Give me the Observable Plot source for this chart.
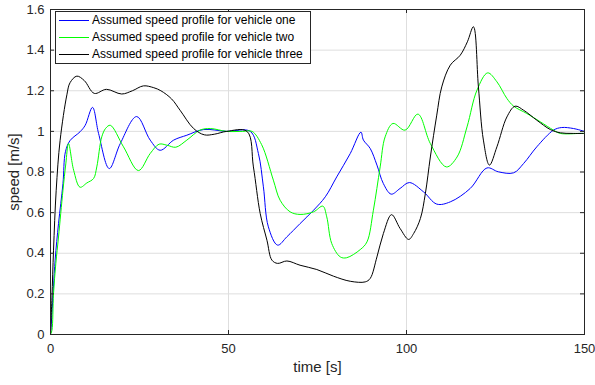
<!DOCTYPE html>
<html><head><meta charset="utf-8">
<script src="https://cdn.jsdelivr.net/npm/d3@7"></script>
<script src="https://cdn.jsdelivr.net/npm/@observablehq/plot@0.6"></script>
<style>
body{margin:0;background:#fff;font-family:"Liberation Sans",Arial,sans-serif}
#wrap{position:relative;width:595px;height:385px}
#legend{position:absolute;left:55px;top:11px;width:254px;height:51px;border:1px solid #262626;background:#fff;font-size:12px;color:#000}
.item{position:absolute;left:3px;height:16px;line-height:16px;white-space:nowrap;display:flex;align-items:center}
.sw{display:inline-block;width:30px;height:0;border-top:1px solid;margin-right:3px}
</style></head><body><div id="wrap"></div>
<script>
// ---- data ----
const seriesNames = ["Assumed speed profile for vehicle one","Assumed speed profile for vehicle two","Assumed speed profile for vehicle three"];
const seriesColors = ["#0000ff","#00ff00","#000000"];

const tOne = [0,0.4,1.3,2.25,3.5,4.2,5.5,8.3,9.75,11.8,13.5,16.5,19.6,24.2,28.0,30.8,34.6,38.3,43.0,49.5,56.1,58.4,59.8,61.2,63.8,66.4,70.1,73.9,77.2,80.4,84.2,87.2,87.9,89.8,91.7,93.5,95.7,98.2,100.8,104.8,108.5,112.3,117.9,122.6,125.8,130.1,132.9,136.6,141.3,143.6,146.9,150];
const vOne = [0,0.1,0.366,0.546,0.743,0.9,0.955,0.998,1.03,1.118,0.99,0.817,0.94,1.073,0.957,0.907,0.957,0.981,1.009,1.0,1.0,0.891,0.727,0.53,0.44,0.481,0.546,0.612,0.678,0.776,0.891,0.996,0.957,0.916,0.834,0.743,0.691,0.719,0.748,0.702,0.642,0.653,0.719,0.82,0.801,0.796,0.842,0.924,1.006,1.019,1.014,1.0];

const tTwo = [0,0.4,0.84,1.5,2.25,3.5,4.3,5.06,6.5,8.3,10.2,12.1,13.0,14.4,15.5,16.8,20.5,24.7,28.0,30.5,32.7,35.2,38.3,42.0,44.9,49.5,54,56.6,59.3,62.6,64.5,67.3,70.1,73.9,76.5,77.6,79.0,81.4,83.2,87.0,88.9,90.7,92.6,94.0,96.2,99.6,103.2,106.7,111.2,114.2,117.0,119.8,122.8,125.4,128.2,130.1,133.8,137.6,141.3,143.2,148.8,150];
const vTwo = [0,0.02,0.2,0.35,0.48,0.71,0.84,0.94,0.809,0.725,0.746,0.768,0.825,0.973,1.015,1.03,0.924,0.807,0.891,0.937,0.932,0.922,0.957,1.006,1.014,1.0,1.0,1.0,0.935,0.76,0.661,0.604,0.591,0.604,0.632,0.579,0.448,0.382,0.378,0.418,0.456,0.612,0.825,0.973,1.039,1.006,1.085,0.94,0.825,0.874,1.022,1.203,1.288,1.244,1.162,1.124,1.088,1.047,1.006,0.99,0.99,0.99];

const tThree = [0,0.4,0.85,1.6,2.7,4.6,5.5,7.4,9.5,12.3,15.7,20.0,23.0,26.1,29.0,31.0,34.0,36.4,40.2,43.2,46.0,49.5,55.2,57.0,58.9,60.8,62.2,63.8,66.4,70.1,74.8,79.5,84.2,88.4,89.8,91.7,93.5,95.8,98.2,100.6,102.0,103.9,105.3,106.7,108.5,109.9,112.3,115.1,117.1,118.8,120.2,121.6,123.3,125.4,128.2,130.5,132.9,136.6,140.4,143.2,146.5,150];
const vThree = [0,0.18,0.415,0.71,0.956,1.18,1.24,1.272,1.25,1.187,1.207,1.184,1.2,1.224,1.215,1.2,1.16,1.104,1.014,0.983,0.986,1.0,1.0,0.825,0.596,0.464,0.366,0.35,0.362,0.341,0.32,0.287,0.262,0.259,0.276,0.382,0.497,0.59,0.522,0.468,0.497,0.571,0.694,0.874,1.08,1.219,1.326,1.375,1.441,1.515,1.219,0.957,0.834,0.924,1.071,1.124,1.104,1.055,1.009,0.993,0.99,0.99];

const xTicks = [0,50,100,150];
const xTickLabels = ["0","50","100","150"];
const yTicks = [0,0.2,0.4,0.6,0.8,1,1.2,1.4,1.6];
const yTickLabels = ["0","0.2","0.4","0.6","0.8","1","1.2","1.4","1.6"];
const xLabel = "time [s]";
const yLabel = "speed [m/s]";

// ---- build ----
const rows = [];
[[tOne,vOne],[tTwo,vTwo],[tThree,vThree]].forEach(([ts,vs],k)=>{
  ts.forEach((t,i)=>rows.push({t, v: vs[i], s: seriesNames[k]}));
});

const W=595,H=385,mL=50,mR=11,mT=9,mB=51;
const ph=H-mT-mB, pw=W-mL-mR;
const axisColor="#262626", gridColor="#dedede";

const chart = Plot.plot({
  width:W,height:H,marginLeft:mL,marginRight:mR,marginTop:mT,marginBottom:mB,
  style:{fontFamily:"'Liberation Sans', Arial, sans-serif",fontSize:"13px",color:axisColor,background:"#fff"},
  x:{domain:[0,150]},
  y:{domain:[0,1.6]},
  color:{domain:seriesNames,range:seriesColors},
  marks:[
    Plot.gridX(xTicks.slice(1,-1),{stroke:gridColor,strokeOpacity:1}),
    Plot.gridY(yTicks.slice(1,-1),{stroke:gridColor,strokeOpacity:1}),
    Plot.line(rows,{x:"t",y:"v",z:"s",stroke:"s",strokeWidth:1,curve:"catmull-rom"}),
    Plot.frame({stroke:axisColor}),
    Plot.tickX(xTicks,{x:d=>d,insetTop:ph-4,stroke:axisColor}),
    Plot.tickX(xTicks,{x:d=>d,insetBottom:ph-4,stroke:axisColor}),
    Plot.tickY(yTicks,{y:d=>d,insetRight:pw-4,stroke:axisColor}),
    Plot.tickY(yTicks,{y:d=>d,insetLeft:pw-4,stroke:axisColor}),
    Plot.axisX(xTicks,{tickSize:0,tickPadding:9,label:null,fontSize:13,tickFormat:d=>xTickLabels[xTicks.indexOf(d)]}),
    Plot.axisY(yTicks,{tickSize:0,tickPadding:6,label:null,fontSize:13,tickFormat:d=>yTickLabels[yTicks.indexOf(d)]}),
    Plot.text([xLabel],{frameAnchor:"bottom",dy:37,fontSize:15,textAnchor:"middle"}),
    Plot.text([yLabel],{frameAnchor:"left",dx:-36,rotate:-90,fontSize:15,textAnchor:"middle"})
  ]
});
const wrap=document.getElementById("wrap");
wrap.appendChild(chart);

const leg=document.createElement("div");
leg.id="legend";
seriesNames.forEach((n,i)=>{
  const it=document.createElement("div");
  it.className="item";
  it.style.top=(i*17)+"px";
  const sw=document.createElement("span");
  sw.className="sw"; sw.style.borderTopColor=seriesColors[i];
  it.appendChild(sw);
  it.appendChild(document.createTextNode(n));
  leg.appendChild(it);
});
wrap.appendChild(leg);
</script></body></html>
